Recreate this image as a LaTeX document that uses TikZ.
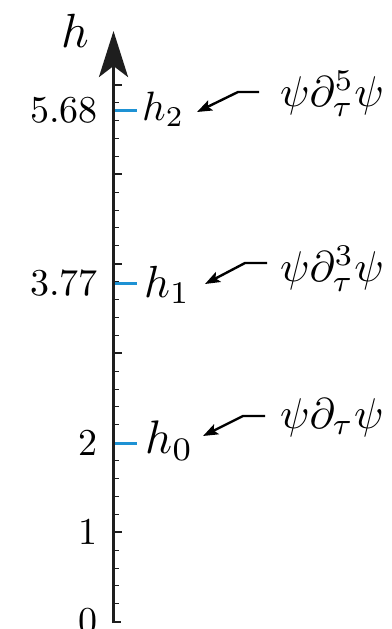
\RequirePackage{fix-cm}
\documentclass[tikz,border=0pt]{standalone}
\usepackage{graphicx}
\usetikzlibrary{arrows.meta}
\definecolor{hblue}{RGB}{30,146,212}
\definecolor{axgray}{RGB}{30,30,30}
\newcommand{\bigtxt}[2]{\scalebox{#1}{#2}}
\begin{document}
\begin{tikzpicture}[x=1pt,y=-1pt,
  axis/.style={line width=3.6pt,draw=axgray,-{Stealth[length=46pt,width=29pt,inset=11pt]}},
  majtick/.style={line width=1.8pt,draw=axgray},
  mintick/.style={line width=1pt,draw=axgray},
  hmark/.style={line width=3pt,draw=hblue},
  numlab/.style={anchor=east,inner sep=0pt,font=\fontsize{10}{12}\selectfont},
  hlab/.style={anchor=base west,inner sep=0pt,font=\fontsize{10}{12}\selectfont},
  oplab/.style={anchor=base west,inner sep=0pt,font=\fontsize{10}{12}\selectfont},
  ptr/.style={line width=2.4pt,-{Stealth[length=15pt,width=11pt,inset=3pt]}}]
\useasboundingbox (0,0) rectangle (391,629);
% axis
\coordinate (bot) at (113.5,623);
\coordinate (top) at (113.5,31);
\draw[axis] (bot) -- (top);
\draw[majtick] (112.5,622) -- (121,622);
% ticks
\foreach \k in {1,...,6} {
  \draw[majtick] (113.5,{621.7-89.5*\k}) -- (122,{621.7-89.5*\k});
}
\foreach \k in {1,2,3,4,6,7,8,9,11,12,13,14,16,17,18,19,21,22,23,24,26,27,28,29,31} {
  \draw[mintick] (113.5,{621.7-17.9*\k}) -- (118.5,{621.7-17.9*\k});
}
% number labels
\node[numlab] (n0) at (98,621.7) {\bigtxt{3.8}{0}};
\node[numlab] (n1) at (98,532.2) {\bigtxt{3.8}{1}};
\node[numlab] (n2) at (98,442.7) {\bigtxt{3.8}{2}};
\node[numlab] (n3) at (98,283.5) {\bigtxt{3.8}{3.77}};
\node[numlab] (n5) at (98,110) {\bigtxt{3.8}{5.68}};
% axis label
\node[hlab] (hax) at (61,47) {\bigtxt{4.8}{$h$}};
% blue marks
\draw[hmark] (115,110) -- (137,110);
\draw[hmark] (115,283.5) -- (137,283.5);
\draw[hmark] (115,443) -- (137,443);
% h labels
\node[hlab] (h2) at (142,120) {\bigtxt{4.1}{$h_2$}};
\node[hlab] (h1) at (144,297) {\bigtxt{4.5}{$h_1$}};
\node[hlab] (h0) at (145,453) {\bigtxt{4.7}{$h_0$}};
% operator labels
\node[oplab] (o2) at (280,106) {\bigtxt{4.3}{$\psi\partial_\tau^5\psi$}};
\node[oplab] (o1) at (280,281) {\bigtxt{4.3}{$\psi\partial_\tau^3\psi$}};
\node[oplab] (o0) at (280,428) {\bigtxt{4.3}{$\psi\partial_\tau\psi$}};
% pointers
\coordinate (s2) at (259,92);  \coordinate (k2) at (238,92);  \coordinate (t2) at (197,112);
\coordinate (s1) at (267,263); \coordinate (k1) at (245,263); \coordinate (t1) at (205,284);
\coordinate (s0) at (265,416); \coordinate (k0) at (243,416); \coordinate (t0) at (203,436);
\draw[ptr] (s2) -- (k2) -- (t2);
\draw[ptr] (s1) -- (k1) -- (t1);
\draw[ptr] (s0) -- (k0) -- (t0);
\end{tikzpicture}
\end{document}
